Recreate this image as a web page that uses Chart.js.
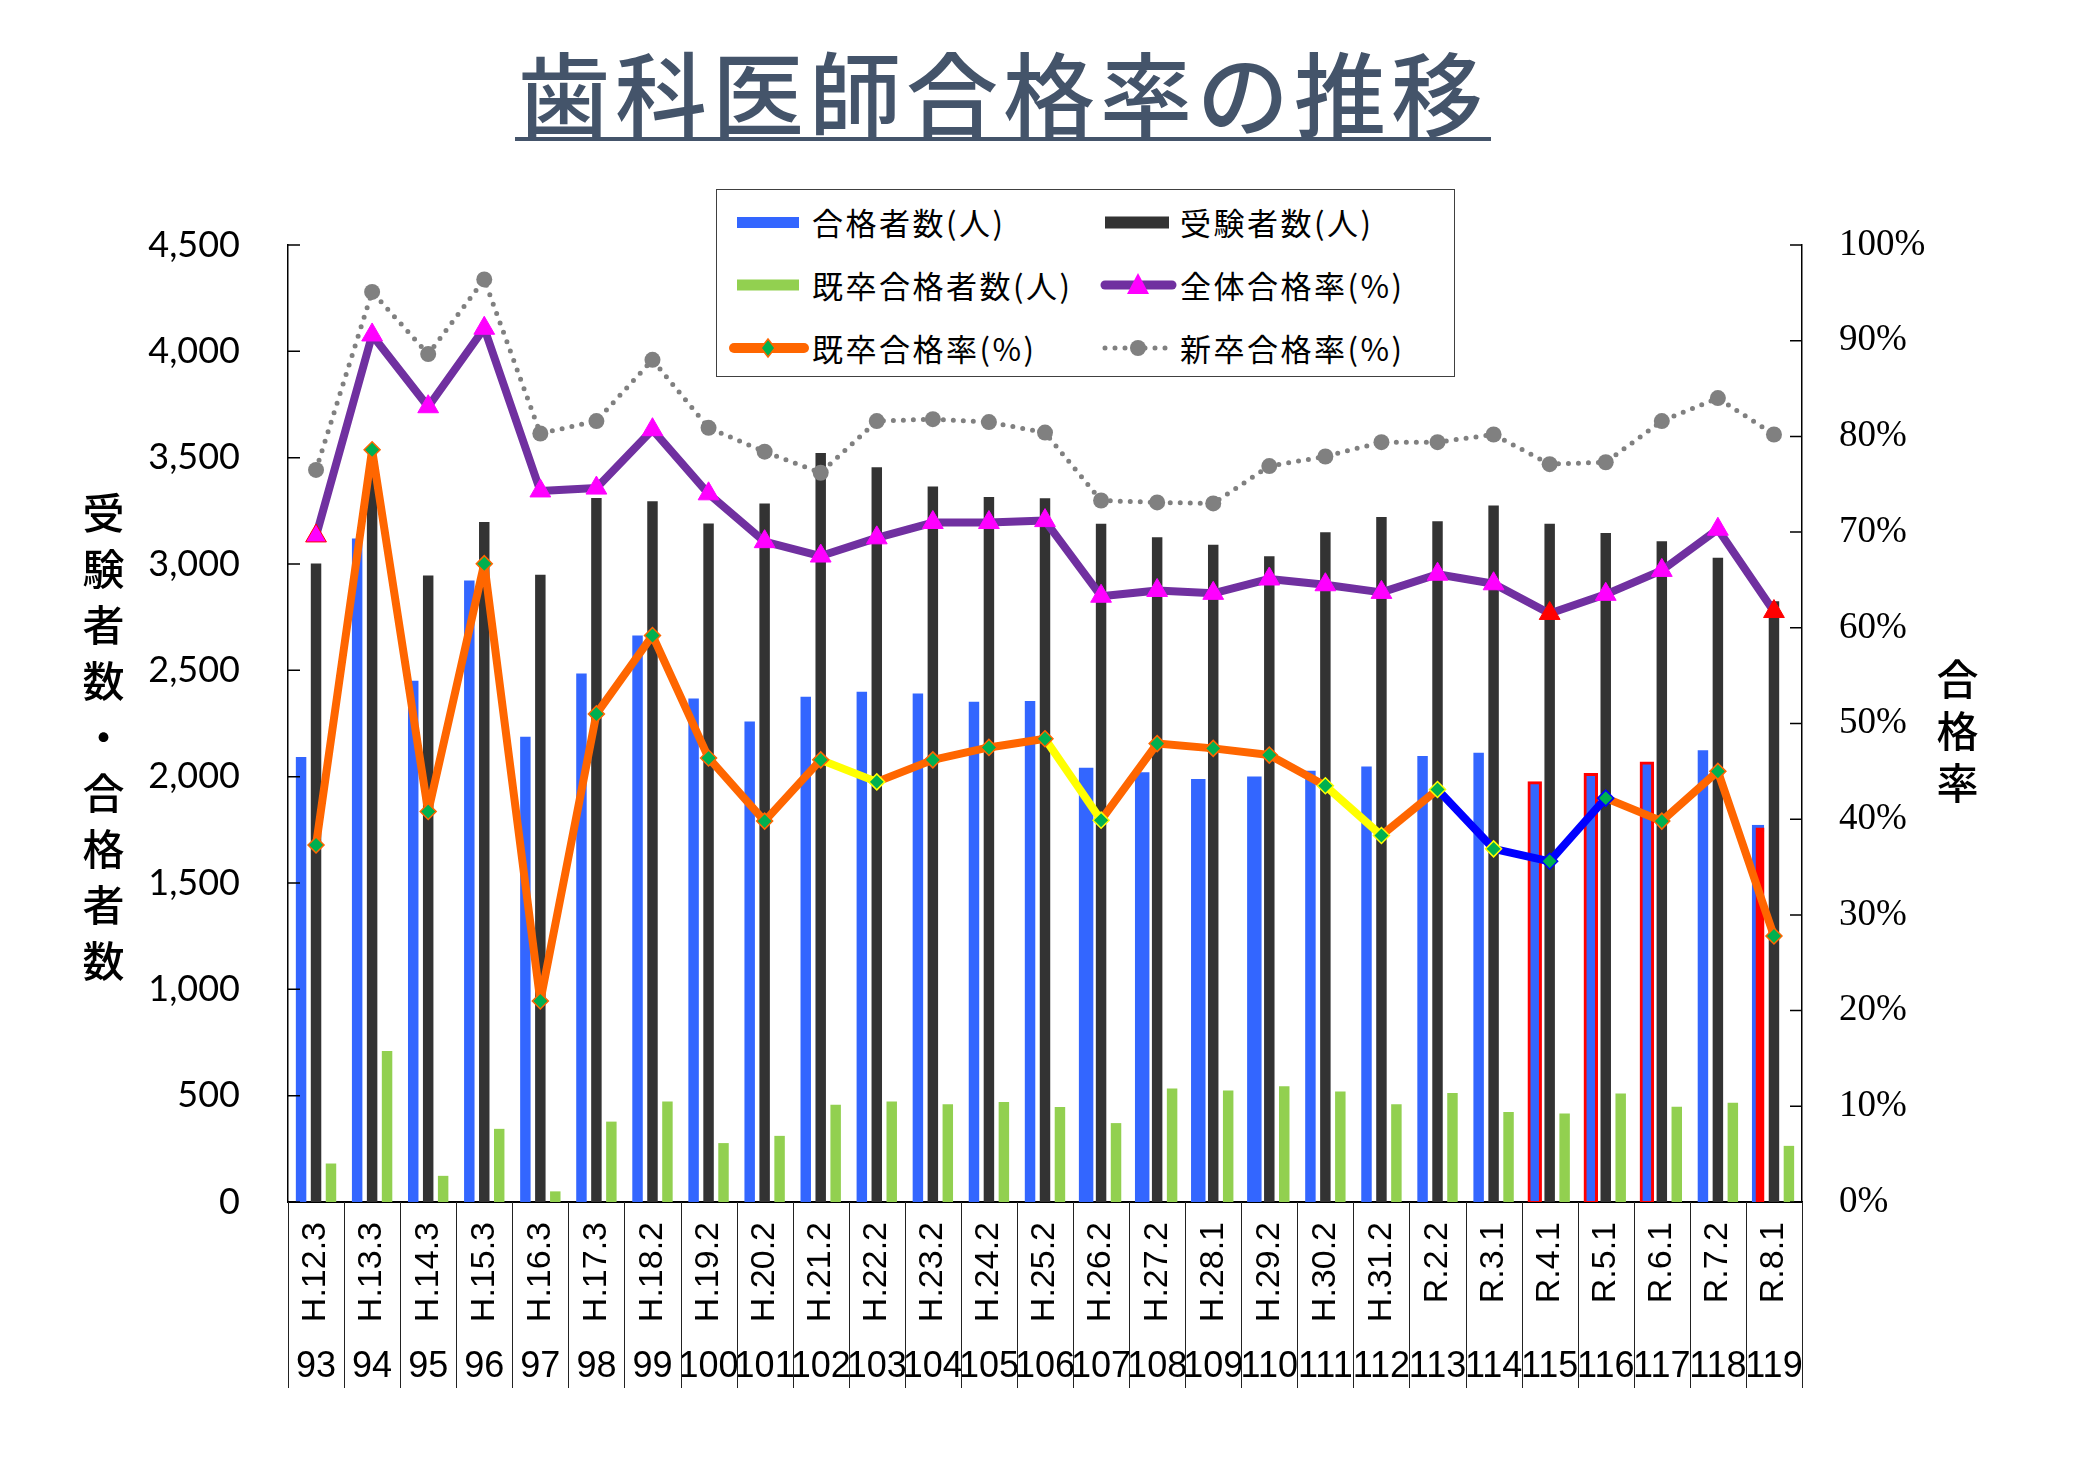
<!DOCTYPE html>
<html><head><meta charset="utf-8">
<script src="https://cdn.jsdelivr.net/npm/chart.js@4.4.1/dist/chart.umd.min.js"></script>
<style>
html,body{margin:0;padding:0;background:#fff;}
#wrap{position:relative;width:2080px;height:1470px;overflow:hidden;background:#fff;}
#c{position:absolute;left:0;top:0;}
#title{position:absolute;left:495px;top:30px;width:1016px;text-align:center;font-family:"Noto Sans CJK JP";font-weight:500;font-size:92px;line-height:120px;color:#44546A;letter-spacing:5px;white-space:nowrap;}
#uline{position:absolute;left:515px;top:137px;width:976px;height:4px;background:#44546A;}
.vt{position:absolute;writing-mode:vertical-rl;text-orientation:upright;font-family:"Noto Sans CJK JP";font-weight:500;font-size:42px;line-height:42px;color:#000;}
#legend{position:absolute;left:716px;top:189px;width:737px;height:186px;border:1.5px solid #404040;background:#fff;}
#legend svg{position:absolute;left:0;top:0;}
.li{position:absolute;font-family:"Noto Sans CJK JP";font-size:31px;letter-spacing:2.5px;line-height:40px;color:#000;white-space:nowrap;}
</style></head>
<body>
<div id="wrap">
<canvas id="c" width="2080" height="1470"></canvas>
<div id="title">歯科医師合格率の推移</div>
<div id="uline"></div>
<div class="vt" id="ltitle" style="left:82px;top:492px;letter-spacing:14px;">受験者数・合格者数</div>
<div class="vt" id="rtitle" style="left:1936px;top:658px;letter-spacing:10px;">合格率</div>
<div id="legend">
<svg width="737" height="186" viewBox="0 0 737 186">
<rect x="20" y="27" width="62" height="11" fill="#3366FF"/>
<rect x="388" y="26.5" width="64" height="12" fill="#333333"/>
<rect x="20" y="89.5" width="62" height="11" fill="#92D050"/>
<line x1="388" y1="95" x2="455" y2="95" stroke="#7030A0" stroke-width="9" stroke-linecap="round"/>
<polygon points="421,83 410,104 432,104" fill="#FF00FF"/>
<line x1="17" y1="158" x2="87" y2="158" stroke="#FF6600" stroke-width="10" stroke-linecap="round"/>
<polygon points="51,149 58,158 51,167 44,158" fill="#00B050" stroke="#FF6600" stroke-width="1.5"/>
<line x1="388" y1="158" x2="456" y2="158" stroke="#808080" stroke-width="5" stroke-dasharray="0 10" stroke-linecap="round"/>
<circle cx="421" cy="158" r="8" fill="#808080"/>
</svg>
<div class="li" style="left:95px;top:12px;">合格者数(人)</div>
<div class="li" style="left:463px;top:12px;">受験者数(人)</div>
<div class="li" style="left:95px;top:75px;">既卒合格者数(人)</div>
<div class="li" style="left:463px;top:75px;">全体合格率(%)</div>
<div class="li" style="left:95px;top:138px;">既卒合格率(%)</div>
<div class="li" style="left:463px;top:138px;">新卒合格率(%)</div>
</div>
</div>
<script>
// ---- data ----
const yearLabels = ['H.12.3','H.13.3','H.14.3','H.15.3','H.16.3','H.17.3','H.18.2','H.19.2','H.20.2','H.21.2','H.22.2','H.23.2','H.24.2','H.25.2','H.26.2','H.27.2','H.28.1','H.29.2','H.30.2','H.31.2','R.2.2','R.3.1','R.4.1','R.5.1','R.6.1','R.7.2','R.8.1'];
const examNumbers = ['93','94','95','96','97','98','99','100','101','102','103','104','105','106','107','108','109','110','111','112','113','114','115','116','117','118','119'];
const passers = [2092,3120,2451,2923,2188,2485,2664,2367,2259,2376,2399,2391,2352,2356,2032,2011,1980,1991,2028,2048,2097,2112,1969,2008,2062,2124,1765];
const examinees = [3002,3450,2946,3198,2949,3310,3295,3190,3284,3522,3455,3365,3315,3309,3189,3126,3091,3037,3149,3221,3201,3275,3189,3146,3107,3029,2825];
const repeaterPassers = [181,710,123,344,50,378,473,277,311,457,473,460,470,447,371,534,524,544,520,460,512,423,416,510,448,467,264];
const overallRate = [69.6,90.6,83.1,91.3,74.3,74.6,80.7,74.0,69.0,67.5,69.4,71.0,71.0,71.2,63.3,63.9,63.6,65.1,64.5,63.7,65.6,64.6,61.5,63.5,66.0,70.3,61.7];
const repeaterRate = [37.3,78.6,40.8,66.7,21.0,51.0,59.2,46.4,39.8,46.2,43.9,46.2,47.5,48.4,39.9,47.9,47.4,46.7,43.5,38.3,43.1,36.9,35.6,42.2,39.8,45.0,27.8];
const newGradRate = [76.5,95.1,88.6,96.4,80.3,81.6,88.0,80.9,78.4,76.2,81.6,81.8,81.5,80.4,73.3,73.1,73.0,76.9,77.9,79.4,79.4,80.2,77.1,77.3,81.6,84.0,80.2];

// ---- styles ----
const OR='#FF6600', YE='#FFFF00', BL='#0000FF';
const repeaterSegColors = [OR,OR,OR,OR,OR,OR,OR,OR,OR,YE,OR,OR,OR,YE,OR,OR,OR,OR,YE,OR,BL,BL,BL,OR,OR,OR];
const repeaterPointBorder = [OR,OR,OR,OR,OR,OR,OR,OR,OR,OR,YE,OR,OR,OR,YE,OR,OR,OR,YE,YE,YE,YE,BL,BL,OR,OR,OR];
const overallPointColor = examNumbers.map((n,i)=> (i===22||i===26) ? '#FF0000' : '#FF00FF');
const overallPointBorder = examNumbers.map((n,i)=> (i===0||i===22||i===26) ? '#FF0000' : '#FF00FF');
const outlinedIdx = [22,23,24];
const filledRedIdx = 26;
const wideIdx = [14,15,16,17];

const helperPlugin = {
  id:'helper',
  afterDraw(chart){
    const {ctx, chartArea:a, scales} = chart;
    const x = scales.x, x2 = scales.x2, y = scales.y, y1 = scales.y1;
    ctx.save();
    ctx.strokeStyle = '#000';
    ctx.lineWidth = 1.5;
    ctx.beginPath();
    y.ticks.forEach(t=>{ const py = y.getPixelForValue(t.value); ctx.moveTo(a.left, py); ctx.lineTo(a.left+12, py); });
    y1.ticks.forEach(t=>{ const py = y1.getPixelForValue(t.value); ctx.moveTo(a.right-12, py); ctx.lineTo(a.right, py); });
    ctx.stroke();
    ctx.lineWidth = 1;
    ctx.strokeStyle = '#222';
    const n = yearLabels.length;
    const half = (x.getPixelForValue(1) - x.getPixelForValue(0)) / 2;
    ctx.beginPath();
    for (let i=0;i<=n;i++){
      const px = Math.round(i<n ? x.getPixelForValue(i) - half : x.getPixelForValue(n-1) + half) + 0.5;
      ctx.moveTo(px, a.bottom); ctx.lineTo(px, x2.bottom);
    }
    ctx.stroke();
    ctx.restore();
  }
};

function makeChart(){
  const ctx = document.getElementById('c').getContext('2d');
  new Chart(ctx, {
    type:'bar',
    data:{
      labels: yearLabels,
      datasets:[
        { type:'bar', label:'合格者数(人)', data: passers, yAxisID:'y', order:5,
          backgroundColor: c => c.dataIndex===filledRedIdx ? '#FF0000' : '#3366FF',
          borderColor: c => c.dataIndex===filledRedIdx ? '#3366FF' : '#FF0000',
          borderWidth: c => outlinedIdx.includes(c.dataIndex) ? 3 : (c.dataIndex===filledRedIdx ? {top:3,left:4,right:0,bottom:0} : 0),
          borderSkipped: false,
          inflateAmount: c => (wideIdx.includes(c.dataIndex) || outlinedIdx.includes(c.dataIndex) || c.dataIndex===filledRedIdx) ? 2 : 0 },
        { type:'bar', label:'受験者数(人)', data: examinees, yAxisID:'y', order:5, backgroundColor:'#333333', borderWidth:0, inflateAmount:0 },
        { type:'bar', label:'既卒合格者数(人)', data: repeaterPassers, yAxisID:'y', order:5, backgroundColor:'#92D050', borderWidth:0, inflateAmount:0 },
        { type:'line', label:'新卒合格率(%)', data: newGradRate, yAxisID:'y1', order:3,
          borderColor:'#808080', borderWidth:5, borderDash:[0,10], borderCapStyle:'round', tension:0,
          pointRadius:8, pointBackgroundColor:'#808080', pointBorderColor:'#808080', pointBorderWidth:0 },
        { type:'line', label:'全体合格率(%)', data: overallRate, yAxisID:'y1', order:2,
          borderColor:'#7030A0', borderWidth:8, borderJoinStyle:'round', tension:0,
          pointStyle:'triangle', pointRadius:12, pointBackgroundColor: overallPointColor, pointBorderColor: overallPointBorder, pointBorderWidth:1 },
        { type:'line', label:'既卒合格率(%)', data: repeaterRate, yAxisID:'y1', order:1,
          borderColor: OR, borderWidth:8, borderJoinStyle:'round', tension:0,
          segment:{ borderColor: c => repeaterSegColors[c.p0DataIndex] },
          pointStyle:'rectRot', pointRadius:8, pointBackgroundColor:'#00B050', pointBorderColor: repeaterPointBorder, pointBorderWidth:1.5 }
      ]
    },
    options:{
      responsive:false, animation:false, devicePixelRatio:1, locale:'en-US',
      layout:{ padding:{ top:245, left:0, right:0, bottom:82 } },
      plugins:{ legend:{display:false}, title:{display:false}, tooltip:{enabled:false} },
      datasets:{ bar:{ categoryPercentage:0.8, barPercentage:0.7 } },
      scales:{
        x:{ type:'category', position:'bottom', weight:0, offset:true,
            grid:{display:false, drawTicks:false}, border:{display:true, color:'#000', width:2},
            ticks:{ autoSkip:false, minRotation:90, maxRotation:90, padding:20, color:'#000', font:{family:'Liberation Sans', size:34} },
            afterFit: s => { s.height = 140; } },
        x2:{ type:'category', labels: examNumbers, position:'bottom', weight:1, offset:true,
            grid:{display:false, drawTicks:false}, border:{display:false},
            ticks:{ autoSkip:false, maxRotation:0, minRotation:0, padding:3, color:'#000', font:{family:"'Liberation Sans Narrow', 'Liberation Sans'", size:36} },
            afterFit: s => { s.height = 46; } },
        y:{ position:'left', min:0, max:4500,
            grid:{display:false, drawTicks:false}, border:{display:true, color:'#000', width:1.5},
            ticks:{ stepSize:500, padding:48, color:'#000', font:{family:'Lato', size:36} },
            afterFit: s => { s.width = 288; } },
        y1:{ position:'right', min:0, max:100,
            grid:{display:false, drawTicks:false}, border:{display:true, color:'#000', width:1.5},
            ticks:{ stepSize:10, padding:37, color:'#000', font:{family:'Liberation Serif', size:37}, callback: v => v + '%' },
            afterFit: s => { s.width = 278; } }
      }
    },
    plugins:[helperPlugin]
  });
}
const fontLoads = ['36px Lato','37px "Liberation Serif"','34px "Liberation Sans"','36px "Liberation Sans Narrow"'].map(f=>document.fonts.load(f).catch(()=>null));
Promise.all(fontLoads).then(makeChart, makeChart);
</script>
</body></html>
